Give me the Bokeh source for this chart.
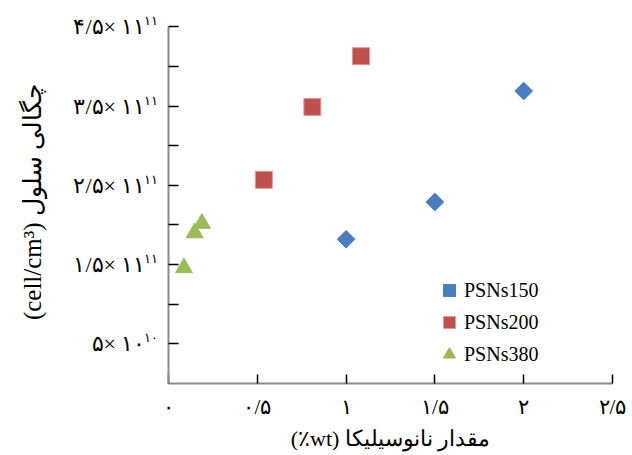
import math
from bokeh.plotting import figure
from bokeh.models import (Range1d, FixedTicker, LinearAxis, Legend, LegendItem)
from bokeh.embed import file_html
from bokeh.resources import INLINE

# ---- data ----
x150 = [1.0, 1.5, 2.0]
y150 = [1.82e11, 2.29e11, 3.69e11]
x200 = [0.537, 0.81, 1.084]
y200 = [2.57e11, 3.49e11, 4.13e11]
x380 = [0.087, 0.147, 0.188]
y380 = [1.46e11, 1.90e11, 2.02e11]

series_names = ["PSNs150", "PSNs200", "PSNs380"]

x_ticks = [0, 0.5, 1, 1.5, 2, 2.5]
x_tick_labels = ["۰", "۰/۵", "۱", "۱/۵", "۲", "۲/۵"]

y_ticks = [0.5e11, 1.0e11, 1.5e11, 2.0e11, 2.5e11, 3.0e11, 3.5e11, 4.0e11, 4.5e11]
y_label_ticks = [0.5e11, 1.5e11, 2.5e11, 3.5e11, 4.5e11]
y_label_base = ["۵\u200e× ۱۰", "۱/۵\u200e× ۱۱", "۲/۵\u200e× ۱۱", "۳/۵\u200e× ۱۱", "۴/۵\u200e× ۱۱"]
y_label_exp = ["۱۰", "۱۱", "۱۱", "۱۱", "۱۱"]

x_title = "\u202bمقدار نانوسیلیکا (wt٪)\u202c"
y_title = "(cell/cm³) چگالی سلول"

FONT = "Liberation Serif"

Y_MAX = 4.5e11          # top of the value axis
Y_PAD = 0.08e11         # headroom so the raised exponents stay inside the range
EXP_RAISE = 0.076e11    # raise of the exponent labels (superscript look)

p = figure(width=632, height=455, output_backend="svg", toolbar_location=None,
           x_range=Range1d(0, 2.5), y_range=Range1d(0, Y_MAX + Y_PAD),
           min_border_left=168, min_border_right=20, min_border_top=20,
           min_border_bottom=72)
p.extra_y_ranges = {"exp": Range1d(-EXP_RAISE, Y_MAX + Y_PAD - EXP_RAISE)}
p.outline_line_color = None
p.xgrid.visible = False
p.ygrid.visible = False
p.background_fill_color = "white"
p.border_fill_color = "white"

# x axis
xa = p.xaxis[0]
xa.ticker = FixedTicker(ticks=x_ticks)
xa.major_label_overrides = {t: s for t, s in zip(x_ticks, x_tick_labels)}
xa.minor_tick_line_color = None
xa.major_tick_in = 9
xa.major_tick_out = 0
xa.major_tick_line_color = "black"
xa.major_tick_line_width = 1.5
xa.axis_line_color = "#8c8c8c"
xa.axis_line_width = 2
xa.major_label_text_font = FONT
xa.major_label_text_font_size = "21px"
xa.major_label_text_color = "black"
xa.major_label_standoff = 11
xa.axis_label = x_title
xa.axis_label_text_font = FONT
xa.axis_label_text_font_size = "22px"
xa.axis_label_text_font_style = "normal"
xa.axis_label_text_color = "black"
xa.axis_label_standoff = 4

# y axis 1 (next to the frame): line and ticks only
ya = p.yaxis[0]
ya.ticker = FixedTicker(ticks=y_ticks)
ya.bounds = (0, Y_MAX)
ya.major_label_overrides = {t: "" for t in y_ticks}
ya.minor_tick_line_color = None
ya.major_tick_in = 10
ya.major_tick_out = 0
ya.major_tick_line_color = "black"
ya.major_tick_line_width = 1.5
ya.axis_line_color = "#8c8c8c"
ya.axis_line_width = 2
ya.major_label_standoff = 0
ya.major_label_text_font_size = "1px"

# y axis 2: exponents (raised)
ya_exp = LinearAxis(y_range_name="exp", ticker=FixedTicker(ticks=y_label_ticks))
ya_exp.major_label_overrides = {t: s for t, s in zip(y_label_ticks, y_label_exp)}
ya_exp.axis_line_color = None
ya_exp.major_tick_line_color = None
ya_exp.minor_tick_line_color = None
ya_exp.major_tick_in = 0
ya_exp.major_tick_out = 0
ya_exp.major_label_standoff = 11
ya_exp.major_label_text_font = FONT
ya_exp.major_label_text_font_size = "13px"
ya_exp.major_label_text_color = "black"
p.add_layout(ya_exp, "left")

# y axis 3: mantissa part and title
ya_base = LinearAxis(ticker=FixedTicker(ticks=y_label_ticks))
ya_base.major_label_overrides = {t: s for t, s in zip(y_label_ticks, y_label_base)}
ya_base.axis_line_color = None
ya_base.major_tick_line_color = None
ya_base.minor_tick_line_color = None
ya_base.major_tick_in = 0
ya_base.major_tick_out = 0
ya_base.major_label_standoff = -5
ya_base.major_label_text_font = FONT
ya_base.major_label_text_font_size = "22px"
ya_base.major_label_text_color = "black"
ya_base.axis_label = y_title
ya_base.axis_label_text_font = FONT
ya_base.axis_label_text_font_size = "25px"
ya_base.axis_label_text_font_style = "normal"
ya_base.axis_label_text_color = "black"
ya_base.axis_label_standoff = 24
p.add_layout(ya_base, "left")

# series
r150 = p.scatter(x150, y150, marker="square", size=12.5, angle=math.pi / 4,
                 fill_color="#4A7EC0", line_color="#4A7EC0")
r200 = p.scatter(x200, y200, marker="square", size=17,
                 fill_color="#C0504D", line_color="#E09A98", line_width=1)
r380 = p.scatter(x380, y380, marker="triangle", size=17,
                 fill_color="#9BBB59", line_color="#9BBB59")

legend = Legend(items=[LegendItem(label=series_names[0], renderers=[r150]),
                       LegendItem(label=series_names[1], renderers=[r200]),
                       LegendItem(label=series_names[2], renderers=[r380])],
                location=(266, 14), orientation="vertical",
                glyph_width=30, glyph_height=30, label_height=30,
                spacing=2, padding=0, margin=0, label_standoff=0,
                label_text_font=FONT, label_text_font_size="20px",
                label_text_color="black",
                border_line_color=None, background_fill_alpha=0)
p.add_layout(legend)

open("out.html", "w").write(file_html(p, INLINE))
